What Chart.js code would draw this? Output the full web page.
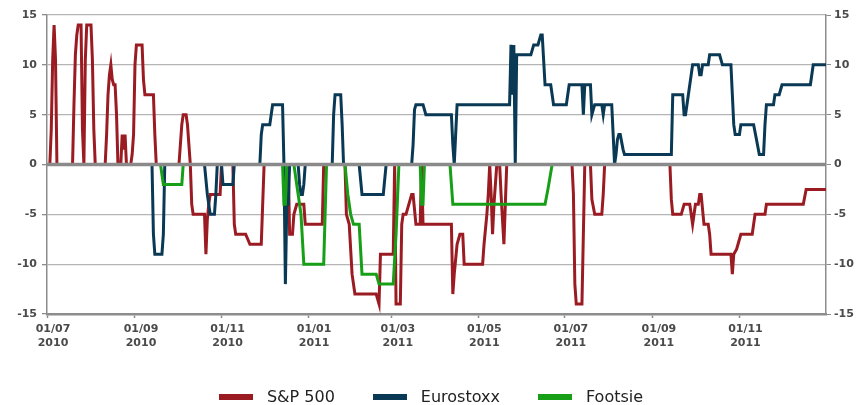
<!DOCTYPE html>
<html>
<head>
<meta charset="utf-8">
<script src="https://cdn.jsdelivr.net/npm/chart.js@4.4.0/dist/chart.umd.min.js"></script>
<style>
    html, body { margin: 0; padding: 0; background: #fff; }
    #wrap { position: relative; width: 862px; height: 405px; }
    #legend {
        position: absolute; left: 0; top: 387px; width: 862px;
        display: flex; justify-content: center; gap: 38px;
        font: 16px 'DejaVu Sans', Verdana, sans-serif; color: #222; line-height: 20px;
    }
    .item { display: flex; align-items: center; }
    .swatch { width: 34px; height: 6px; margin-right: 14px; }
</style>
</head>
<body>
<div id="wrap">
    <canvas id="chart" width="862" height="405"></canvas>
    <div id="legend"></div>
</div>
<script>
// x values are days counted from 01/07/2010
const tickDays = [0, 62, 123, 184, 243, 304, 365, 427, 488];
const tickMonths = ['01/07', '01/09', '01/11', '01/01', '01/03', '01/05', '01/07', '01/09', '01/11'];
const tickYears = ['2010', '2010', '2010', '2011', '2011', '2011', '2011', '2011', '2011'];
const lastDay = 549;

const spDays = [0, 2, 3, 4, 5, 6, 7, 18, 19, 20, 21, 22, 24, 25, 26, 27, 28, 31, 32, 33, 34,
    41, 42, 43, 44, 45, 46, 47, 48, 49, 50, 52, 53, 54, 55, 56, 59, 60, 61, 62, 63, 67, 68, 69, 75, 76, 77,
    93, 94, 95, 96, 98, 99, 100, 101, 102, 103, 111, 112, 113, 114, 115, 122, 123,
    131, 132, 133, 140, 143, 151, 153, 170, 171, 173, 174, 176, 181, 182, 194, 195,
    210, 211, 213, 215, 216, 217, 232, 234, 235, 244, 245, 246, 249, 250, 251, 253, 255, 257, 258, 260,
    263, 264, 265, 285, 286, 287, 289, 291, 293, 294, 307, 308, 310, 311, 312, 313, 314, 315, 317,
    319, 320, 322, 323, 324, 370, 371, 372, 373, 377, 378, 379, 383, 384, 386, 391, 392, 393,
    439, 440, 441, 447, 449, 453, 455, 457, 459, 460, 461, 463, 466, 467, 468, 482, 483, 484,
    486, 487, 489, 497, 499, 506, 507, 533, 535, 549];
const spValues = [0, 0, 3.5, 10.5, 14, 10.5, 0, 0, 6, 11, 13, 14, 14, 3.5, 0, 10.5, 14, 14, 10.5, 3.5, 0,
    0, 3, 7, 9, 10, 8.5, 8, 8, 5, 0, 0, 3, 1.5, 3, 0, 0, 1, 3, 10, 12, 12, 8.5, 7, 7, 3, 0,
    0, 2, 4, 5, 5, 4, 2, 0, -4, -5, -5, -9, -5.5, -4, -3, -3, 0,
    0, -6, -7, -7, -8, -8, 0, 0, -7, -7, -5, -4, -4, -6, -6, 0,
    0, -5, -6, -11, -12, -13, -13, -14, -9, -9, 0, -14, -14, -6, -5, -5, -4, -3, -3, -6,
    -6, 0, -6, -6, -13, -11, -8, -7, -7, -10, -10, -8, -5, -3, 0, -3, -7, -4, 0,
    0, -3, -8, -4, 0, 0, -3, -12, -14, -14, -7, 0, 0, -3.5, -5, -5, -3, 0,
    0, -3.5, -5, -5, -4, -4, -6, -4, -4, -3, -3, -6, -6, -7, -9, -9, -11, -9,
    -8.5, -8, -7, -7, -5, -5, -4, -4, -2.5, -2.5];

const esDays = [0, 74, 75, 76, 81, 82, 83, 111, 113, 115, 118, 119, 120, 123, 124, 131, 132,
    150, 151, 152, 157, 158, 159, 166, 167, 168, 169, 170, 171, 177, 178, 179, 180, 181, 182,
    201, 202, 203, 207, 208, 209, 220, 222, 237, 239, 257, 258, 259, 260, 265, 266, 267, 285,
    286, 287, 288, 289, 326, 327, 328, 329, 330, 331, 341, 343, 346, 348, 349, 351, 355, 357,
    366, 368, 377, 378, 379, 383, 384, 385, 386, 391, 392, 393, 398, 400, 401, 402, 403, 404,
    406, 407, 440, 441, 448, 449, 450, 451, 453, 454, 455, 459, 460, 461, 462, 466, 467, 474,
    476, 482, 483, 484, 485, 488, 489, 498, 500, 502, 505, 506, 507, 512, 513, 516, 518, 538,
    540, 549];
const esValues = [0, 0, -7, -9, -9, -7, 0, 0, -3, -5, -5, -3, 0, 0, -2, -2, 0,
    0, 3, 4, 4, 5, 6, 6, 0, -12, -4, -4, 0, 0, -2, -3, -3, -2, 0,
    0, 5, 7, 7, 4, 0, 0, -3, -3, 0, 0, 2, 5.5, 6, 6, 5.5, 5, 5,
    2, 0, 3, 6, 6, 12, 7, 12, 0, 11, 11, 12, 12, 13, 13, 8, 8, 6,
    6, 8, 8, 5, 8, 8, 5, 5.5, 6, 6, 5, 6, 6, 0, 1, 2.5, 3, 3,
    1.5, 1, 1, 7, 7, 5, 5, 6, 8, 9, 10, 10, 9, 9, 10, 10, 11, 11,
    10, 10, 7, 4, 3, 3, 4, 4, 2.5, 1, 1, 4, 6, 6, 7, 7, 8, 8,
    10, 10];

const ftDays = [0, 80, 82, 95, 96, 166, 167, 168, 169, 174, 176, 178, 179, 181, 195, 196, 197,
    210, 212, 214, 216, 220, 222, 232, 234, 244, 246, 248, 263, 264, 265, 266, 284, 286, 351,
    353, 356, 549];
const ftValues = [0, 0, -2, -2, 0, 0, -4, -4, 0, 0, -2, -4, -5, -10, -10, -5, 0,
    0, -3, -5, -6, -6, -11, -11, -12, -12, -7, 0, 0, -4, -4, 0, 0, -4, -4,
    -2.5, 0, 0];

const seriesNames = ['S&P 500', 'Eurostoxx', 'Footsie'];
const seriesColors = ['#9b1b23', '#0a3955', '#17a017'];

function toPoints(days, values) {
    return days.map((d, i) => ({ x: d, y: values[i] }));
}

const zeroLine = {
    id: 'zeroLine',
    afterDatasetsDraw(chart) {
        const { ctx, chartArea, scales } = chart;
        const y = scales.y.getPixelForValue(0);
        ctx.save();
        ctx.strokeStyle = '#8a8a8a';
        ctx.lineWidth = 3.5;
        ctx.beginPath();
        ctx.moveTo(chartArea.left, y);
        ctx.lineTo(chartArea.right, y);
        ctx.stroke();
        ctx.restore();
    }
};

const tickFont = { family: "'DejaVu Sans', Verdana, sans-serif", size: 11, weight: 'bold' };
const tickColor = '#4a4a4a';
const axisColor = '#8c8c8c';

const ctx = document.getElementById('chart').getContext('2d');
const chart = new Chart(ctx, {
    type: 'line',
    data: {
        datasets: [
            { label: seriesNames[0], data: toPoints(spDays, spValues), borderColor: seriesColors[0], order: 3 },
            { label: seriesNames[1], data: toPoints(esDays, esValues), borderColor: seriesColors[1], order: 2 },
            { label: seriesNames[2], data: toPoints(ftDays, ftValues), borderColor: seriesColors[2], order: 1 }
        ]
    },
    options: {
        responsive: false,
        animation: false,
        layout: { padding: { top: 15, bottom: 51, left: 0, right: 0 } },
        elements: {
            point: { radius: 0 },
            line: { borderWidth: 3, tension: 0 }
        },
        plugins: {
            legend: { display: false },
            tooltip: { enabled: false }
        },
        scales: {
            x: {
                type: 'linear',
                min: 0,
                max: lastDay,
                afterBuildTicks: scale => {
                    scale.ticks = tickDays.map(v => ({ value: v }));
                },
                afterFit: scale => { scale.height = 40; },
                ticks: {
                    autoSkip: false,
                    maxRotation: 0,
                    padding: 5,
                    labelOffset: 6,
                    font: tickFont,
                    color: tickColor,
                    callback: value => {
                        const i = tickDays.indexOf(value);
                        return i >= 0 ? [tickMonths[i], tickYears[i]] : '';
                    }
                },
                grid: { drawOnChartArea: false, tickLength: 4, tickColor: axisColor, tickWidth: 1.5 },
                border: { color: axisColor, width: 2.5 }
            },
            y: {
                position: 'left',
                min: -15,
                max: 15,
                afterFit: scale => { scale.width = 47; },
                ticks: { stepSize: 5, padding: 5, font: tickFont, color: tickColor },
                grid: { color: '#b5b5b5', lineWidth: 1.3, tickLength: 5, tickColor: axisColor },
                border: { color: axisColor, width: 1.5 }
            },
            y2: {
                position: 'right',
                min: -15,
                max: 15,
                afterFit: scale => { scale.width = 36; },
                ticks: { stepSize: 5, padding: 3, font: tickFont, color: tickColor },
                grid: { drawOnChartArea: false, tickLength: 5, tickColor: axisColor },
                border: { color: axisColor, width: 1.5 }
            }
        }
    },
    plugins: [zeroLine]
});

const legend = document.getElementById('legend');
seriesNames.forEach((name, i) => {
    const item = document.createElement('div');
    item.className = 'item';
    const sw = document.createElement('span');
    sw.className = 'swatch';
    sw.style.background = seriesColors[i];
    item.appendChild(sw);
    item.appendChild(document.createTextNode(name));
    legend.appendChild(item);
});
</script>
</body>
</html>
